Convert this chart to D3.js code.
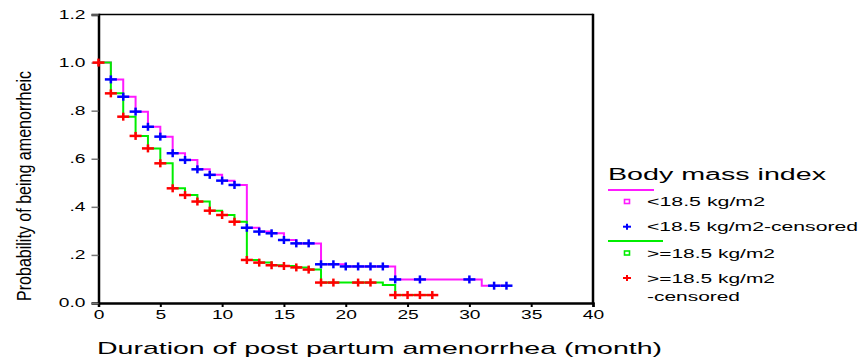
<!DOCTYPE html>
<html><head><meta charset="utf-8">
<script src="https://cdn.jsdelivr.net/npm/d3@7"></script>
<style>
html,body{margin:0;padding:0;background:#fff;}
svg{display:block;font-family:"Liberation Sans",Arial,sans-serif;}
</style></head>
<body>
<svg id="chart" width="862" height="359"></svg>
<script>
// ---- data ----
const xTicks = [0,5,10,15,20,25,30,35,40];
const yTicks = [0,0.2,0.4,0.6,0.8,1.0,1.2];
const yTickLabels = ["0.0",".2",".4",".6",".8","1.0","1.2"];

// <18.5 kg/m2 : step times and survival after each step
const lowTimes = [0,1,2,3,4,5,6,7,8,9,10,11,12,13,14,15,16,18,20,24,31,33];
const lowSurv  = [1.0,0.930,0.858,0.796,0.733,0.692,0.623,0.595,0.556,0.533,0.509,0.491,0.313,0.297,0.290,0.262,0.248,0.161,0.152,0.098,0.072,0.072];
const lowCensored = [1,2,3,4,5,6,7,8,9,10,11,12,13,14,15,16,17,18,19,20,21,22,23,24,26,30,32,33];

// >=18.5 kg/m2
const highTimes = [0,1,2,3,4,5,6,7,8,9,10,11,12,13,14,15,16,17,18,23,24,27];
const highSurv  = [1.0,0.872,0.775,0.695,0.643,0.581,0.477,0.449,0.422,0.384,0.366,0.338,0.179,0.168,0.157,0.154,0.148,0.139,0.085,0.075,0.033,0.033];
const highCensored = [0,1,2,3,4,5,6,7,8,9,10,11,12,13,14,15,16,17,18,19,21,22,24,25,26,27];

const legendTitle = "Body mass index";
const legendLabels = ["<18.5 kg/m2","<18.5 kg/m2-censored",">=18.5 kg/m2",">=18.5 kg/m2","-censored"];
const xTitle = "Duration of post partum amenorrhea (month)";
const yTitle = "Probability of being amenorrheic";

// ---- layout ----
const svg = d3.select("#chart");
const L = 98.5, R = 593, T = 14.5, B = 303;
const x = d3.scaleLinear().domain([0,40]).range([L,R]);
const y = d3.scaleLinear().domain([0,1.2]).range([B,T]);

const PINK = "#ff1aff", GREEN = "#00ee00", BLUE = "#0000ff", RED = "#ff0000";

function stretch(sel, factor){
  sel.each(function(){
    const w = this.getComputedTextLength();
    d3.select(this).attr("textLength", w*factor).attr("lengthAdjust","spacingAndGlyphs");
  });
}
function fitTo(sel, len){
  sel.attr("textLength", len).attr("lengthAdjust","spacingAndGlyphs");
}

// frame top & right
svg.append("line").attr("x1",L).attr("x2",R).attr("y1",T).attr("y2",T).attr("stroke","#000").attr("stroke-width",1.5);
svg.append("line").attr("x1",R).attr("x2",R).attr("y1",T-0.75).attr("y2",B+1).attr("stroke","#000").attr("stroke-width",2.5);

// axes
const xAxis = svg.append("g").attr("transform",`translate(0,${B})`)
  .call(d3.axisBottom(x).tickValues(xTicks).tickSize(4).tickPadding(3).tickFormat(d3.format("d")));
xAxis.select(".domain").attr("stroke-width",2.5);
xAxis.selectAll(".tick line").attr("stroke-width",2);
xAxis.selectAll("text").attr("font-size",12).attr("font-family","Liberation Sans, Arial, sans-serif").attr("fill","#000");
stretch(xAxis.selectAll("text"),1.6);

const yAxis = svg.append("g").attr("transform",`translate(${L},0)`)
  .call(d3.axisLeft(y).tickValues(yTicks).tickSize(7).tickPadding(6).tickFormat((d,i)=>yTickLabels[i]));
yAxis.select(".domain").attr("stroke-width",2.5);
yAxis.selectAll(".tick line").attr("stroke","#777").attr("stroke-width",1.5);
yAxis.selectAll("text").attr("font-size",12).attr("font-family","Liberation Sans, Arial, sans-serif").attr("fill","#000");
stretch(yAxis.selectAll("text"),1.6);

// step lines
const line = d3.line().x(d=>x(d[0])).y(d=>y(d[1])).curve(d3.curveStepAfter);
function stepAt(times, surv, t){
  let v = surv[0];
  for(let i=0;i<times.length;i++){ if(times[i] <= t) v = surv[i]; }
  return v;
}
const lowPts = lowTimes.map((t,i)=>[t,lowSurv[i]]);
const highPts = highTimes.map((t,i)=>[t,highSurv[i]]);

svg.append("path").attr("d",line(lowPts)).attr("fill","none").attr("stroke",PINK).attr("stroke-width",2);
svg.append("path").attr("d",line(highPts)).attr("fill","none").attr("stroke",GREEN).attr("stroke-width",2);

function plus(g, cx, cy, color){
  g.append("line").attr("x1",cx-6).attr("x2",cx+6).attr("y1",cy).attr("y2",cy).attr("stroke",color).attr("stroke-width",2.5);
  g.append("line").attr("x1",cx).attr("x2",cx).attr("y1",cy-4).attr("y2",cy+4).attr("stroke",color).attr("stroke-width",2.5);
}
const mk = svg.append("g");
lowCensored.forEach(t=>plus(mk, x(t), y(stepAt(lowTimes,lowSurv,t)), BLUE));
highCensored.forEach(t=>plus(mk, x(t), y(stepAt(highTimes,highSurv,t)), RED));

// axis titles
const xt = svg.append("text").attr("x",(97+662)/2).attr("y",354).attr("text-anchor","middle")
  .attr("font-size",17).attr("fill","#000").text(xTitle);
fitTo(xt,565);

const yt = svg.append("text").attr("transform",`translate(31,${186}) rotate(-90)`).attr("text-anchor","middle")
  .attr("font-size",21).attr("font-family","Liberation Sans Narrow, Liberation Sans, Arial, sans-serif")
  .attr("fill","#000").text(yTitle);
fitTo(yt,230);

// legend
const lg = svg.append("g");
const lt = lg.append("text").attr("x",608).attr("y",180).attr("font-size",16).attr("fill","#000").text(legendTitle);
fitTo(lt,218);
lg.append("line").attr("x1",608).attr("x2",654).attr("y1",190).attr("y2",190).attr("stroke",PINK).attr("stroke-width",2);
lg.append("line").attr("x1",608).attr("x2",663).attr("y1",241).attr("y2",241).attr("stroke",GREEN).attr("stroke-width",2);
lg.append("rect").attr("x",624.5).attr("y",199.5).attr("width",5).attr("height",4).attr("fill","#fff").attr("stroke",PINK).attr("stroke-width",1.6);
lg.append("rect").attr("x",624.5).attr("y",251).attr("width",5).attr("height",4).attr("fill","#fff").attr("stroke",GREEN).attr("stroke-width",1.6);
function lplus(cx,cy,color){
  lg.append("line").attr("x1",cx-4).attr("x2",cx+4).attr("y1",cy).attr("y2",cy).attr("stroke",color).attr("stroke-width",2);
  lg.append("line").attr("x1",cx).attr("x2",cx).attr("y1",cy-3).attr("y2",cy+3).attr("stroke",color).attr("stroke-width",2);
}
lplus(627,226.7,BLUE);
lplus(627,278,RED);
const legY = [206,231,257.5,282.5,300.5];
const legLen = [118,211,128,128,93];
legendLabels.forEach((s,i)=>{
  const t = lg.append("text").attr("x",647).attr("y",legY[i]).attr("font-size",12.5).attr("fill","#000").text(s);
  fitTo(t,legLen[i]);
});
</script>
</body></html>
